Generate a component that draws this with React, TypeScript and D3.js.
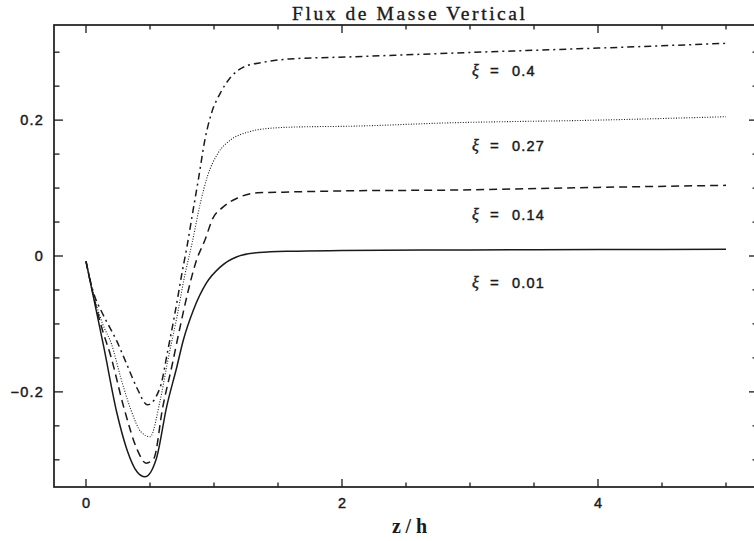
import React from "react";
import * as d3 from "d3";

const W = 754;
const H = 541;

// xi = 0.01 (solid)
const z001 = [0, 0.06, 0.14, 0.24, 0.32, 0.40, 0.46, 0.55, 0.63, 0.71, 0.76, 0.84, 0.94, 1.05, 1.18, 1.35, 1.6, 2.0, 3.0, 4.0, 5.0];
const v001 = [-0.008, -0.062, -0.135, -0.23, -0.285, -0.318, -0.325, -0.298, -0.222, -0.163, -0.124, -0.079, -0.04, -0.016, -0.001, 0.005, 0.007, 0.008, 0.009, 0.0095, 0.010];

// xi = 0.14 (dashed)
const z014 = [0, 0.06, 0.13, 0.19, 0.30, 0.40, 0.47, 0.53, 0.60, 0.67, 0.73, 0.80, 0.86, 0.93, 0.99, 1.07, 1.18, 1.34, 1.54, 2.06, 2.84, 4.0, 5.0];
const v014 = [-0.008, -0.06, -0.11, -0.145, -0.226, -0.285, -0.305, -0.298, -0.222, -0.163, -0.109, -0.05, -0.008, 0.024, 0.055, 0.072, 0.085, 0.093, 0.094, 0.096, 0.097, 0.101, 0.104];

// xi = 0.27 (dotted)
const z027 = [0, 0.06, 0.13, 0.20, 0.27, 0.35, 0.43, 0.50, 0.58, 0.64, 0.71, 0.77, 0.83, 0.89, 0.95, 1.03, 1.13, 1.26, 1.44, 1.67, 2.06, 2.84, 4.0, 5.0];
const v027 = [-0.008, -0.058, -0.1, -0.13, -0.178, -0.226, -0.259, -0.266, -0.212, -0.153, -0.09, -0.03, 0.02, 0.075, 0.118, 0.151, 0.171, 0.182, 0.188, 0.19, 0.191, 0.196, 0.200, 0.205];

// xi = 0.4 (dash-dot)
const z040 = [0, 0.06, 0.13, 0.24, 0.32, 0.40, 0.48, 0.58, 0.64, 0.70, 0.75, 0.79, 0.83, 0.88, 0.93, 0.98, 1.05, 1.13, 1.23, 1.38, 1.59, 2.06, 2.84, 4.0, 5.0];
const v040 = [-0.008, -0.055, -0.085, -0.125, -0.16, -0.195, -0.219, -0.193, -0.138, -0.079, -0.025, 0.015, 0.06, 0.115, 0.172, 0.21, 0.24, 0.263, 0.278, 0.285, 0.29, 0.293, 0.2985, 0.306, 0.313];

const xiLabels = ["0.4", "0.27", "0.14", "0.01"];
const xiLabelY = [76, 151, 220, 288];

const xMajor = [0, 2, 4];
const xMinor = [0, 0.5, 1, 1.5, 2, 2.5, 3, 3.5, 4, 4.5, 5];
const yMajor = [-0.2, 0, 0.2];
const yMinor = [-0.3, -0.25, -0.2, -0.15, -0.1, -0.05, 0, 0.05, 0.1, 0.15, 0.2, 0.25, 0.3];
const yTickLabels = ["\u22120.2", "0", "0.2"];

const series = [
  { z: z001, v: v001, dash: "" },
  { z: z014, v: v014, dash: "8,5" },
  { z: z027, v: v027, dash: "1,1.6" },
  { z: z040, v: v040, dash: "7,4,2,4" },
];

export default function App() {
  const x = d3.scaleLinear().domain([-0.25, 5.25]).range([54, 758]);
  const y = d3.scaleLinear().domain([-0.34, 0.34]).range([487, 25]);
  const line = d3
    .line<[number, number]>()
    .x((d) => x(d[0]))
    .y((d) => y(d[1]))
    .curve(d3.curveMonotoneX);

  const [x0, x1] = x.range();
  const [y0, y1] = y.range();
  const ink = "#1a1a1a";
  const sans = "Liberation Sans, Arial, sans-serif";
  const serif = "Liberation Serif, DejaVu Serif, serif";

  return (
    <svg
      width={W}
      height={H}
      viewBox={`0 0 ${W} ${H}`}
      style={{ position: "absolute", left: 0, top: 0, background: "#fff" }}
    >
      <rect x={0} y={0} width={W} height={H} fill="#fff" />
      <text
        x={292}
        y={20}
        fontFamily={serif}
        fontSize={19.5}
        textLength={233}
        lengthAdjust="spacing"
        fill={ink}
        stroke={ink}
        strokeWidth={0.35}
      >
        Flux de Masse Vertical
      </text>

      {/* frame */}
      <rect x={x0} y={y1} width={x1 - x0} height={y0 - y1} fill="none" stroke={ink} strokeWidth={1.7} />

      {/* x ticks */}
      {xMinor.map((t) => {
        const len = xMajor.includes(t) ? 8 : 4.5;
        return (
          <g key={"xt" + t}>
            <line x1={x(t)} x2={x(t)} y1={y0} y2={y0 - len} stroke={ink} strokeWidth={1.3} />
            <line x1={x(t)} x2={x(t)} y1={y1} y2={y1 + len} stroke={ink} strokeWidth={1.3} />
          </g>
        );
      })}
      {yMinor.map((t) => {
        const len = yMajor.some((m) => Math.abs(m - t) < 1e-9) ? 9 : 5.5;
        return (
          <g key={"yt" + t}>
            <line x1={x0} x2={x0 + len} y1={y(t)} y2={y(t)} stroke={ink} strokeWidth={1.3} />
            <line x1={x1} x2={x1 - len} y1={y(t)} y2={y(t)} stroke={ink} strokeWidth={1.3} />
          </g>
        );
      })}

      {/* x tick labels */}
      {xMajor.map((t) => (
        <text key={"xl" + t} x={x(t)} y={508} textAnchor="middle" fontFamily={sans} fontSize={14.5} fill={ink} stroke={ink} strokeWidth={0.45}>
          {String(t)}
        </text>
      ))}
      {/* y tick labels */}
      {yMajor.map((t, i) => (
        <text
          key={"yl" + t}
          x={44}
          y={y(t) + 5}
          textAnchor="end"
          fontFamily={sans}
          fontSize={14.5}
          letterSpacing={1.2}
          fill={ink}
          stroke={ink}
          strokeWidth={0.45}
        >
          {yTickLabels[i]}
        </text>
      ))}

      <text
        x={392}
        y={533}
        fontFamily={serif}
        fontWeight="bold"
        fontSize={20}
        textLength={35}
        lengthAdjust="spacing"
        fill={ink}
      >
        z/h
      </text>

      {/* curves */}
      {series.map((s, i) => (
        <path
          key={"s" + i}
          d={line(s.z.map((z, k) => [z, s.v[k]] as [number, number])) || ""}
          fill="none"
          stroke={ink}
          strokeWidth={i === 2 ? 1.1 : 1.5}
          strokeDasharray={s.dash || undefined}
        />
      ))}

      {/* xi labels */}
      {xiLabels.map((lab, i) => (
        <g key={"xi" + i}>
          <text x={472} y={xiLabelY[i]} fontFamily="Liberation Serif, serif" fontStyle="italic" fontSize={16} fill={ink} stroke={ink} strokeWidth={0.4}>
            ξ
          </text>
          <text x={490} y={xiLabelY[i]} fontFamily={sans} fontSize={15} fill={ink} stroke={ink} strokeWidth={0.4}>
            =
          </text>
          <text x={512} y={xiLabelY[i]} fontFamily={sans} fontSize={14.5} letterSpacing={1.2} fill={ink} stroke={ink} strokeWidth={0.45}>
            {lab}
          </text>
        </g>
      ))}
    </svg>
  );
}
